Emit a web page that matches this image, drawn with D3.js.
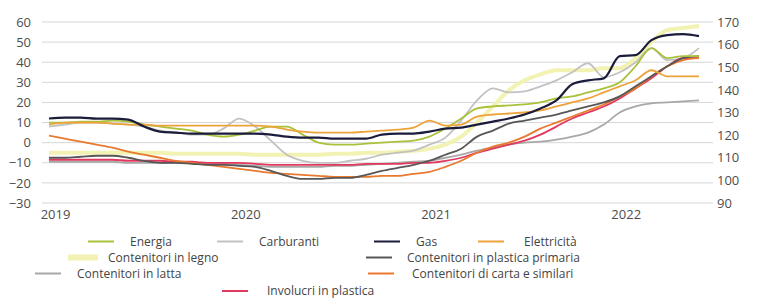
<!DOCTYPE html>
<html>
<head>
<meta charset="utf-8">
<script src="https://cdn.jsdelivr.net/npm/d3@7"></script>
<style>
  body { margin: 0; background: #fff; }
  svg { display: block; font-family: "Open Sans", sans-serif; }
</style>
</head>
<body>
<div id="chart"></div>
<script>
// months Jan 2019 .. Jun 2022 (index 0..41)
const years = ["2019", "2020", "2021", "2022"];
const leftTicks = [60, 50, 40, 30, 20, 10, 0, -10, -20, -30];
const rightTicks = [170, 160, 150, 140, 130, 120, 110, 100, 90];

const seriesNames = [
  "Energia", "Carburanti", "Gas", "Elettricità",
  "Contenitori in legno", "Contenitori in plastica primaria",
  "Contenitori in latta", "Contenitori di carta e similari",
  "Involucri in plastica"
];

// values (left axis units)
const energia = [10,10,10.5,10.5,11,10.5,9,8,7,6,4,3,4,6,8,8,4,0,-1,-1,-0.5,0,0.5,1,3,7,12,17,18,18.5,19,20,22,23,25,27,30,38,47,42,43,43];
const carburanti = [8,9,10,10,9.5,9,8,6,5,4,4,7,12,8,1,-6,-9,-10,-10,-9,-8,-6,-5,-4,-1,2.5,11,21,27,25,25.5,28,31,35,39.5,32.5,35,40,47,41,42,47];
const gas = [12,12.5,12.5,12,12,11.5,8,5.5,5,4.5,4.5,4.5,4.5,4.5,4,3,2.5,2.5,2,2,2,4,4.5,4.5,5.5,7,7.5,9,10.5,12,14,17,21,29,31,32,43,43.5,51,53.5,54,53];
const elettricita = [9,10,10,10,9.5,9,9,8.5,8.5,8.5,8.5,8.5,8.5,8.5,8,6.5,5.5,5,5,5,5.5,6,6.5,7.5,11,8.5,9,13,14,14.5,15,16,18,20,22,25,28,31,36,33,33,33];
const legno = [-5,-5,-5,-5,-5,-5,-5,-5,-5.5,-5.5,-5.5,-5.5,-5.5,-6,-6,-6,-6,-6,-5.5,-5.5,-5,-5,-4.5,-4,-3,-1,3,10,18,26,31,34,36,36,36,37,37,42,50,56,57,58];
const plastica = [-7.5,-7.5,-7,-6.5,-6.5,-7.5,-9,-10,-10,-10.5,-11,-11,-11.5,-12,-14,-16.5,-18,-18,-17.5,-17.5,-16,-14,-12.5,-11,-9,-6,-3,3,6,9.5,11,12.5,14,16,18,20,23,28,33,38,42,43];
const latta = [-9.5,-9.5,-9.5,-9.5,-9.5,-10,-10,-10,-10,-10,-10.5,-10.5,-11,-11.5,-12,-12,-12,-12,-11.5,-11.5,-11,-10.5,-10,-9.5,-9,-7.5,-6,-4,-2.5,-1,0,0.5,1.5,3,5,9,15,18,19.5,20,20.5,21];
const carta = [3.5,2,0.5,-1,-2.5,-4.5,-6,-7.5,-9,-10,-11,-12,-13,-14,-15,-15.5,-16,-16.5,-17,-17,-17,-16.5,-16.5,-15.5,-14.5,-12,-9,-5,-2,0,3,7,10,13,16,19,23,27,33,38,41,42];
const involucri = [-8.5,-8.5,-8.5,-8.5,-8.5,-9,-9,-9,-9.5,-9.5,-10,-10,-10,-10.5,-11,-11,-11,-11,-11,-11,-10.5,-10.5,-10.5,-10,-10,-9,-7.5,-5,-3,-1,1,4,8,12,15,18,22,27,32,38,42,42];

const seriesValues = [energia, carburanti, gas, elettricita, legno, plastica, latta, carta, involucri];
const seriesColors = ["#a9c23c", "#c2c2c2", "#1b1b3c", "#eea23a", "#f2f2b2", "#575757", "#a8a8a8", "#e8792e", "#e0385e"];
const seriesWidths = [1.8, 1.8, 2.2, 1.8, 4, 1.8, 1.8, 1.8, 1.8];
const drawOrder = [4, 6, 1, 8, 7, 5, 0, 3, 2];

// legend layout: swatch start x, text x, row
const legendLayout = [
  { s: 88, t: 130, row: 0 }, { s: 217, t: 259, row: 0 }, { s: 374, t: 416, row: 0 }, { s: 478, t: 524, row: 0 },
  { s: 68, t: 108, row: 1 }, { s: 366, t: 407, row: 1 },
  { s: 35, t: 77, row: 2 }, { s: 368, t: 412, row: 2 },
  { s: 222, t: 267, row: 3 }
];
const legendRowsY = [241.5, 257.5, 273.5, 291];

const width = 760, height = 299;

const svg = d3.select("#chart").append("svg")
  .attr("width", width)
  .attr("height", height);

const x = d3.scaleLinear().domain([0, 41]).range([49, 699]);
const y = d3.scaleLinear().domain([-30, 60]).range([203, 22]);
const yRight = d3.scaleLinear().domain([90, 170]).range([203, 22]);

// gridlines
svg.append("g")
  .selectAll("line")
  .data(leftTicks)
  .enter().append("line")
    .attr("x1", 42).attr("x2", 713)
    .attr("y1", d => y(d)).attr("y2", d => y(d))
    .attr("stroke", "#d6d6d6")
    .attr("stroke-width", 1);

// left axis
const gl = svg.append("g")
  .attr("transform", "translate(34,0)")
  .call(d3.axisLeft(y).tickValues(leftTicks).tickSize(0).tickPadding(3));
gl.select(".domain").remove();
gl.selectAll("text").attr("font-size", "13px").attr("fill", "#4d4d4d")
  .attr("font-family", "Open Sans, sans-serif");

// right axis
const gr = svg.append("g")
  .attr("transform", "translate(714,0)")
  .call(d3.axisRight(yRight).tickValues(rightTicks).tickSize(0).tickPadding(3));
gr.select(".domain").remove();
gr.selectAll("text").attr("font-size", "13px").attr("fill", "#4d4d4d")
  .attr("font-family", "Open Sans, sans-serif");

// x axis
const gx = svg.append("g")
  .attr("transform", "translate(6,207)")
  .call(d3.axisBottom(x).tickValues([0, 12, 24, 36]).tickFormat((d, i) => years[i]).tickSize(0).tickPadding(3));
gx.select(".domain").remove();
gx.selectAll("text").attr("font-size", "13px").attr("fill", "#4d4d4d")
  .attr("font-family", "Open Sans, sans-serif");

// lines
const line = d3.line()
  .x((d, i) => x(i))
  .y(d => y(d))
  .curve(d3.curveMonotoneX);

drawOrder.forEach(k => {
  svg.append("path")
    .datum(seriesValues[k])
    .attr("fill", "none")
    .attr("stroke", seriesColors[k])
    .attr("stroke-width", seriesWidths[k])
    .attr("stroke-linejoin", "round")
    .attr("d", line);
});

// legend
const lg = svg.append("g");
legendLayout.forEach((p, k) => {
  const ly = legendRowsY[p.row];
  lg.append("line")
    .attr("x1", p.s).attr("x2", p.s + (k === 4 ? 30 : 26))
    .attr("y1", ly).attr("y2", ly)
    .attr("stroke", seriesColors[k])
    .attr("stroke-width", k === 4 ? 6 : 2);
  lg.append("text")
    .attr("x", p.t).attr("y", ly + 4)
    .attr("font-size", "12px")
    .attr("fill", "#444")
    .text(seriesNames[k]);
});
</script>
</body>
</html>
